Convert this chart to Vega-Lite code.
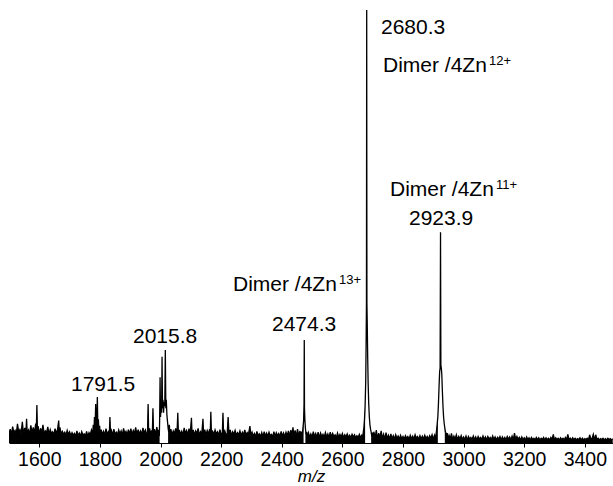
{
  "$schema": "https://vega.github.io/schema/vega-lite/v6.json",
  "width": 604,
  "height": 433,
  "autosize": "none",
  "padding": {"left": 9, "top": 10, "right": 0, "bottom": 43},
  "background": "white",
  "config": {
    "view": {"stroke": null},
    "font": "Liberation Sans",
    "axis": {"grid": false}
  },
  "datasets": {
    "spectrum": [
      {"mz":1500,"i":2.2},{"mz":1504,"i":3.2},{"mz":1508,"i":2.0},{"mz":1512,"i":3.8},{"mz":1516,"i":2.4},{"mz":1520,"i":2.9},{"mz":1524,"i":2.1},{"mz":1528,"i":4.4},{"mz":1532,"i":2.5},{"mz":1536,"i":3.1},{"mz":1540,"i":2.2},{"mz":1544,"i":4.9},{"mz":1548,"i":2.0},{"mz":1552,"i":3.5},{"mz":1556,"i":2.6},{"mz":1558,"i":5.6},{"mz":1560,"i":2.3},{"mz":1564,"i":3.0},{"mz":1568,"i":2.1},{"mz":1572,"i":4.1},{"mz":1576,"i":2.4},{"mz":1580,"i":3.6},{"mz":1584,"i":2.2},{"mz":1588,"i":4.5},{"mz":1590,"i":2.5},{"mz":1592,"i":8.8},{"mz":1594,"i":2.3},{"mz":1596,"i":3.9},{"mz":1600,"i":2.0},
      {"mz":1604,"i":3.4},{"mz":1608,"i":2.3},{"mz":1612,"i":4.2},{"mz":1616,"i":2.1},{"mz":1620,"i":2.8},{"mz":1624,"i":2.4},{"mz":1628,"i":3.7},{"mz":1632,"i":2.0},{"mz":1636,"i":3.1},{"mz":1640,"i":2.2},{"mz":1644,"i":2.6},{"mz":1648,"i":1.9},{"mz":1652,"i":3.3},{"mz":1656,"i":2.3},{"mz":1660,"i":3.0},{"mz":1664,"i":5.2},{"mz":1666,"i":2.2},{"mz":1668,"i":3.6},{"mz":1672,"i":2.1},{"mz":1676,"i":2.7},{"mz":1680,"i":2.0},{"mz":1684,"i":2.5},{"mz":1688,"i":1.8},{"mz":1692,"i":2.9},{"mz":1696,"i":2.0},{"mz":1700,"i":2.6},
      {"mz":1704,"i":1.7},{"mz":1708,"i":2.4},{"mz":1712,"i":1.8},{"mz":1716,"i":2.2},{"mz":1720,"i":1.5},{"mz":1724,"i":2.8},{"mz":1728,"i":1.7},{"mz":1732,"i":2.3},{"mz":1736,"i":1.6},{"mz":1740,"i":2.6},{"mz":1744,"i":1.8},{"mz":1748,"i":2.1},{"mz":1752,"i":1.6},{"mz":1756,"i":2.7},{"mz":1760,"i":1.5},{"mz":1764,"i":2.4},{"mz":1768,"i":1.9},{"mz":1772,"i":3.0},{"mz":1776,"i":2.0},{"mz":1778,"i":4.2},{"mz":1780,"i":2.2},{"mz":1782,"i":6.0},{"mz":1784,"i":2.8},{"mz":1786,"i":9.0},{"mz":1788,"i":3.4},{"mz":1790,"i":5.5},{"mz":1791.5,"i":10.6},{"mz":1793,"i":4.0},{"mz":1795,"i":5.5},{"mz":1797,"i":2.4},{"mz":1799,"i":4.0},{"mz":1801,"i":2.0},
      {"mz":1804,"i":3.1},{"mz":1808,"i":2.0},{"mz":1812,"i":2.7},{"mz":1816,"i":1.8},{"mz":1820,"i":3.3},{"mz":1824,"i":2.1},{"mz":1828,"i":2.6},{"mz":1831,"i":1.9},{"mz":1833,"i":6.0},{"mz":1835,"i":2.2},{"mz":1838,"i":2.9},{"mz":1842,"i":1.8},{"mz":1846,"i":3.2},{"mz":1850,"i":2.0},{"mz":1854,"i":2.5},{"mz":1858,"i":1.9},{"mz":1862,"i":3.0},{"mz":1866,"i":2.1},{"mz":1870,"i":2.8},{"mz":1874,"i":1.8},{"mz":1878,"i":3.4},{"mz":1882,"i":2.2},{"mz":1886,"i":2.7},{"mz":1890,"i":1.9},{"mz":1894,"i":3.1},{"mz":1898,"i":2.0},
      {"mz":1902,"i":3.3},{"mz":1906,"i":2.0},{"mz":1910,"i":2.9},{"mz":1914,"i":2.2},{"mz":1918,"i":3.6},{"mz":1922,"i":1.9},{"mz":1926,"i":3.1},{"mz":1930,"i":2.1},{"mz":1934,"i":2.8},{"mz":1938,"i":2.0},{"mz":1942,"i":3.5},{"mz":1946,"i":2.3},{"mz":1950,"i":3.0},{"mz":1954,"i":1.9},{"mz":1957,"i":2.4},{"mz":1959,"i":9.0},{"mz":1961,"i":2.2},{"mz":1964,"i":3.4},{"mz":1968,"i":2.0},{"mz":1971,"i":2.9},{"mz":1973,"i":2.3},{"mz":1975,"i":8.0},{"mz":1977,"i":2.1},{"mz":1980,"i":3.2},{"mz":1984,"i":2.0},{"mz":1988,"i":3.7},{"mz":1991,"i":2.2},{"mz":1994,"i":3.0},{"mz":1996,"i":1.6},
      {"mz":1997,"i":5.0},{"mz":1998.5,"i":15.2},{"mz":2000,"i":6.0},{"mz":2002,"i":9.0},{"mz":2003.5,"i":7.0},{"mz":2005,"i":19.9},{"mz":2006.5,"i":8.0},{"mz":2008,"i":10.0},{"mz":2010,"i":7.0},{"mz":2012,"i":9.5},{"mz":2014,"i":8.5},{"mz":2015.8,"i":21.5},{"mz":2017.5,"i":8.0},{"mz":2019,"i":10.0},{"mz":2021,"i":6.5},{"mz":2023,"i":5.0},{"mz":2025,"i":3.4},{"mz":2027,"i":2.5},{"mz":2029,"i":4.2},{"mz":2031,"i":2.0},
      {"mz":2034,"i":3.2},{"mz":2038,"i":1.9},{"mz":2042,"i":2.8},{"mz":2046,"i":2.2},{"mz":2050,"i":3.4},{"mz":2054,"i":1.8},{"mz":2057,"i":7.0},{"mz":2059,"i":2.1},{"mz":2062,"i":3.0},{"mz":2066,"i":2.0},{"mz":2070,"i":2.7},{"mz":2074,"i":1.8},{"mz":2078,"i":3.5},{"mz":2082,"i":2.2},{"mz":2086,"i":2.9},{"mz":2090,"i":1.9},{"mz":2094,"i":3.3},{"mz":2098,"i":2.1},
      {"mz":2102,"i":5.8},{"mz":2104,"i":2.0},{"mz":2108,"i":3.0},{"mz":2112,"i":1.8},{"mz":2116,"i":2.8},{"mz":2120,"i":2.2},{"mz":2124,"i":3.4},{"mz":2128,"i":1.9},{"mz":2132,"i":2.6},{"mz":2136,"i":2.0},{"mz":2140,"i":5.6},{"mz":2142,"i":2.1},{"mz":2146,"i":3.1},{"mz":2150,"i":1.8},{"mz":2154,"i":2.9},{"mz":2158,"i":2.1},{"mz":2162,"i":3.2},{"mz":2164,"i":2.2},{"mz":2166,"i":7.2},{"mz":2168,"i":2.0},{"mz":2172,"i":2.7},{"mz":2176,"i":1.9},{"mz":2180,"i":3.0},{"mz":2184,"i":2.1},{"mz":2188,"i":2.6},{"mz":2192,"i":1.8},{"mz":2196,"i":3.1},
      {"mz":2200,"i":2.0},{"mz":2204,"i":2.3},{"mz":2206,"i":7.0},{"mz":2208,"i":2.1},{"mz":2212,"i":2.8},{"mz":2216,"i":1.8},{"mz":2220,"i":2.2},{"mz":2223,"i":6.0},{"mz":2226,"i":1.9},{"mz":2230,"i":3.0},{"mz":2234,"i":1.7},{"mz":2238,"i":2.6},{"mz":2242,"i":2.0},{"mz":2246,"i":2.9},{"mz":2250,"i":1.8},{"mz":2254,"i":2.4},{"mz":2258,"i":1.9},{"mz":2262,"i":2.8},{"mz":2266,"i":1.7},{"mz":2270,"i":2.5},{"mz":2274,"i":1.9},{"mz":2278,"i":3.0},{"mz":2282,"i":1.8},{"mz":2286,"i":2.4},{"mz":2290,"i":2.0},{"mz":2295,"i":3.9},{"mz":2298,"i":1.7},
      {"mz":2302,"i":2.5},{"mz":2306,"i":1.6},{"mz":2310,"i":2.2},{"mz":2314,"i":1.4},{"mz":2318,"i":2.7},{"mz":2322,"i":1.7},{"mz":2326,"i":2.1},{"mz":2330,"i":1.5},{"mz":2334,"i":2.4},{"mz":2338,"i":1.4},{"mz":2342,"i":2.6},{"mz":2346,"i":1.6},{"mz":2350,"i":2.3},{"mz":2354,"i":1.5},{"mz":2358,"i":2.5},{"mz":2362,"i":1.7},{"mz":2366,"i":2.0},{"mz":2370,"i":1.4},{"mz":2374,"i":2.6},{"mz":2378,"i":1.5},{"mz":2382,"i":2.4},{"mz":2386,"i":1.7},{"mz":2390,"i":2.2},{"mz":2394,"i":1.5},{"mz":2398,"i":2.7},
      {"mz":2402,"i":1.6},{"mz":2406,"i":2.3},{"mz":2410,"i":1.4},{"mz":2414,"i":2.5},{"mz":2418,"i":1.7},{"mz":2422,"i":2.8},{"mz":2426,"i":1.6},{"mz":2430,"i":3.0},{"mz":2434,"i":1.8},{"mz":2437,"i":3.6},{"mz":2440,"i":1.7},{"mz":2444,"i":2.9},{"mz":2448,"i":1.5},{"mz":2452,"i":3.2},{"mz":2456,"i":1.6},{"mz":2460,"i":2.8},{"mz":2463,"i":1.8},
      {"mz":2466,"i":2.6},{"mz":2468,"i":2.0},{"mz":2470,"i":3.5},{"mz":2472,"i":5.0},{"mz":2473.5,"i":9.0},{"mz":2474.3,"i":23.8},{"mz":2475,"i":8.0},{"mz":2476.5,"i":5.0},{"mz":2478,"i":3.5},{"mz":2480,"i":2.0},{"mz":2482,"i":2.6},{"mz":2484,"i":1.5},
      {"mz":2488,"i":2.4},{"mz":2492,"i":1.4},{"mz":2496,"i":2.1},{"mz":2500,"i":1.3},{"mz":2504,"i":2.6},{"mz":2508,"i":1.5},{"mz":2512,"i":2.2},{"mz":2516,"i":1.3},{"mz":2520,"i":2.5},{"mz":2524,"i":1.2},{"mz":2528,"i":2.3},{"mz":2532,"i":1.5},{"mz":2536,"i":2.0},{"mz":2540,"i":1.3},{"mz":2544,"i":2.4},{"mz":2548,"i":1.4},{"mz":2552,"i":2.1},{"mz":2556,"i":1.2},{"mz":2560,"i":2.5},{"mz":2564,"i":1.4},{"mz":2568,"i":2.2},{"mz":2572,"i":1.5},{"mz":2576,"i":1.9},{"mz":2580,"i":1.2},{"mz":2584,"i":2.3},{"mz":2588,"i":1.3},{"mz":2592,"i":2.0},{"mz":2596,"i":1.4},
      {"mz":2600,"i":2.2},{"mz":2604,"i":1.2},{"mz":2608,"i":1.9},{"mz":2612,"i":1.4},{"mz":2616,"i":2.1},{"mz":2620,"i":1.3},{"mz":2624,"i":1.8},{"mz":2628,"i":1.2},{"mz":2632,"i":2.0},{"mz":2636,"i":1.4},{"mz":2640,"i":1.9},{"mz":2644,"i":1.2},{"mz":2648,"i":1.7},{"mz":2652,"i":1.3},{"mz":2656,"i":2.0},{"mz":2660,"i":1.2},{"mz":2664,"i":1.8},
      {"mz":2667,"i":1.4},{"mz":2669,"i":2.5},{"mz":2671,"i":3.5},{"mz":2673,"i":5.5},{"mz":2675,"i":8.5},{"mz":2677,"i":14.0},{"mz":2678.5,"i":24.0},{"mz":2679.5,"i":32.3},{"mz":2680.3,"i":100},{"mz":2681,"i":32.3},{"mz":2682,"i":28.0},{"mz":2683.5,"i":20.0},{"mz":2685,"i":14.0},{"mz":2687,"i":9.0},{"mz":2689,"i":6.0},{"mz":2691,"i":4.2},{"mz":2693,"i":3.2},{"mz":2695,"i":2.5},{"mz":2697,"i":1.5},{"mz":2699,"i":2.4},{"mz":2701,"i":1.1},
      {"mz":2704,"i":2.6},{"mz":2708,"i":1.1},{"mz":2712,"i":3.0},{"mz":2716,"i":1.0},{"mz":2720,"i":2.3},{"mz":2724,"i":1.2},{"mz":2728,"i":2.8},{"mz":2732,"i":1.0},{"mz":2736,"i":2.0},{"mz":2740,"i":0.9},{"mz":2744,"i":2.4},{"mz":2748,"i":1.1},{"mz":2752,"i":1.8},{"mz":2756,"i":0.9},{"mz":2760,"i":2.1},{"mz":2764,"i":1.0},{"mz":2768,"i":1.7},{"mz":2772,"i":0.9},{"mz":2776,"i":1.9},{"mz":2780,"i":1.1},{"mz":2784,"i":1.6},{"mz":2788,"i":0.9},{"mz":2792,"i":1.8},{"mz":2796,"i":1.0},
      {"mz":2800,"i":1.5},{"mz":2804,"i":0.9},{"mz":2808,"i":1.7},{"mz":2812,"i":1.1},{"mz":2816,"i":1.5},{"mz":2820,"i":0.9},{"mz":2824,"i":1.8},{"mz":2828,"i":1.0},{"mz":2832,"i":1.6},{"mz":2836,"i":0.9},{"mz":2840,"i":1.9},{"mz":2844,"i":1.1},{"mz":2848,"i":1.5},{"mz":2852,"i":0.9},{"mz":2856,"i":1.7},{"mz":2860,"i":1.0},{"mz":2864,"i":1.6},{"mz":2868,"i":0.9},{"mz":2872,"i":1.8},{"mz":2876,"i":1.0},{"mz":2880,"i":1.5},{"mz":2884,"i":0.9},{"mz":2888,"i":1.7},{"mz":2892,"i":1.1},{"mz":2896,"i":1.9},{"mz":2900,"i":0.9},{"mz":2904,"i":1.8},{"mz":2907,"i":1.1},
      {"mz":2909,"i":2.0},{"mz":2911,"i":3.0},{"mz":2913,"i":4.5},{"mz":2915,"i":6.0},{"mz":2917,"i":9.0},{"mz":2919,"i":13.0},{"mz":2921,"i":16.5},{"mz":2922.5,"i":17.3},{"mz":2923.9,"i":48.7},{"mz":2925,"i":18.0},{"mz":2926.5,"i":17.3},{"mz":2928,"i":16.0},{"mz":2930,"i":12.0},{"mz":2932,"i":8.5},{"mz":2934,"i":6.0},{"mz":2936,"i":4.5},{"mz":2938,"i":3.5},{"mz":2940,"i":2.6},{"mz":2942,"i":2.2},{"mz":2944,"i":1.0},{"mz":2946,"i":2.3},{"mz":2948,"i":0.9},
      {"mz":2952,"i":1.8},{"mz":2956,"i":0.9},{"mz":2960,"i":2.2},{"mz":2964,"i":0.8},{"mz":2968,"i":1.6},{"mz":2972,"i":0.9},{"mz":2976,"i":1.9},{"mz":2980,"i":0.8},{"mz":2984,"i":1.5},{"mz":2988,"i":0.9},{"mz":2992,"i":1.7},{"mz":2996,"i":0.8},
      {"mz":3000,"i":1.4},{"mz":3004,"i":0.8},{"mz":3008,"i":1.6},{"mz":3012,"i":0.7},{"mz":3016,"i":1.5},{"mz":3020,"i":0.9},{"mz":3024,"i":1.3},{"mz":3028,"i":0.8},{"mz":3032,"i":1.6},{"mz":3036,"i":0.8},{"mz":3040,"i":1.4},{"mz":3044,"i":0.7},{"mz":3048,"i":1.5},{"mz":3052,"i":0.9},{"mz":3056,"i":1.3},{"mz":3060,"i":0.8},{"mz":3064,"i":1.6},{"mz":3068,"i":0.8},{"mz":3072,"i":1.4},{"mz":3076,"i":0.7},{"mz":3080,"i":1.5},{"mz":3084,"i":0.9},{"mz":3088,"i":1.3},{"mz":3092,"i":0.8},{"mz":3096,"i":1.6},
      {"mz":3100,"i":0.8},{"mz":3104,"i":1.4},{"mz":3108,"i":0.7},{"mz":3112,"i":1.3},{"mz":3116,"i":0.9},{"mz":3120,"i":1.5},{"mz":3124,"i":0.7},{"mz":3128,"i":1.4},{"mz":3132,"i":0.8},{"mz":3136,"i":1.3},{"mz":3140,"i":0.7},{"mz":3144,"i":1.5},{"mz":3148,"i":0.9},{"mz":3152,"i":1.4},{"mz":3156,"i":0.7},{"mz":3160,"i":1.6},{"mz":3164,"i":0.8},{"mz":3168,"i":2.3},{"mz":3172,"i":0.8},{"mz":3176,"i":1.5},{"mz":3180,"i":0.9},{"mz":3184,"i":1.3},{"mz":3188,"i":0.7},{"mz":3192,"i":1.4},{"mz":3196,"i":0.8},
      {"mz":3200,"i":1.2},{"mz":3204,"i":0.7},{"mz":3208,"i":1.4},{"mz":3212,"i":0.8},{"mz":3216,"i":1.2},{"mz":3220,"i":0.7},{"mz":3224,"i":1.3},{"mz":3228,"i":0.8},{"mz":3232,"i":1.1},{"mz":3236,"i":0.7},{"mz":3240,"i":1.3},{"mz":3244,"i":0.8},{"mz":3248,"i":1.2},{"mz":3252,"i":0.7},{"mz":3256,"i":1.1},{"mz":3260,"i":0.8},{"mz":3264,"i":1.3},{"mz":3268,"i":0.7},{"mz":3272,"i":1.2},{"mz":3276,"i":0.8},{"mz":3280,"i":1.1},{"mz":3284,"i":0.7},{"mz":3288,"i":1.3},{"mz":3292,"i":0.8},{"mz":3296,"i":2.0},
      {"mz":3300,"i":0.7},{"mz":3304,"i":1.2},{"mz":3308,"i":0.8},{"mz":3312,"i":1.1},{"mz":3316,"i":0.7},{"mz":3320,"i":1.2},{"mz":3324,"i":0.8},{"mz":3328,"i":1.1},{"mz":3332,"i":0.7},{"mz":3336,"i":1.3},{"mz":3340,"i":0.8},{"mz":3344,"i":2.0},{"mz":3348,"i":0.7},{"mz":3352,"i":1.1},{"mz":3356,"i":0.7},{"mz":3360,"i":1.2},{"mz":3364,"i":0.8},{"mz":3368,"i":1.1},{"mz":3372,"i":0.7},{"mz":3376,"i":1.0},{"mz":3380,"i":0.8},{"mz":3384,"i":1.2},{"mz":3388,"i":0.7},{"mz":3392,"i":1.1},{"mz":3396,"i":0.7},
      {"mz":3400,"i":1.0},{"mz":3404,"i":0.8},{"mz":3408,"i":1.1},{"mz":3412,"i":0.7},{"mz":3416,"i":1.9},{"mz":3420,"i":0.8},{"mz":3424,"i":1.1},{"mz":3428,"i":2.0},{"mz":3432,"i":0.7},{"mz":3436,"i":1.9},{"mz":3440,"i":0.8},{"mz":3444,"i":1.1},{"mz":3448,"i":0.7},{"mz":3452,"i":1.0},{"mz":3456,"i":0.8},{"mz":3460,"i":1.1},{"mz":3464,"i":0.7},{"mz":3468,"i":1.0},{"mz":3472,"i":0.7},{"mz":3476,"i":1.1},{"mz":3480,"i":0.8},{"mz":3484,"i":1.0},{"mz":3488,"i":0.7},{"mz":3492,"i":1.0}
    ],
    "peakLabels": [
      {"mz":2727.5,"i":95.8,"text":"2680.3"},
      {"mz":2819.9,"i":51.7,"text":"2923.9"},
      {"mz":2367.8,"i":27.3,"text":"2474.3"},
      {"mz":1909.2,"i":24.5,"text":"2015.8"},
      {"mz":1704.6,"i":13.4,"text":"1791.5"}
    ],
    "ionLabels": [
      {"mz":2734.1,"i":87.1,"text":"Dimer /4Zn","charge":"12+"},
      {"mz":2757.2,"i":58.4,"text":"Dimer /4Zn","charge":"11+"},
      {"mz":2239.1,"i":36.5,"text":"Dimer /4Zn","charge":"13+"}
    ]
  },
  "data": {"name": "spectrum"},
  "encoding": {
    "x": {
      "field": "mz", "type": "quantitative",
      "scale": {"domain": [1500, 3493], "nice": false, "zero": false},
      "axis": {
        "values": [1600, 1800, 2000, 2200, 2400, 2600, 2800, 3000, 3200, 3400],
        "format": "d",
        "title": "m/z",
        "titleFont": "Liberation Sans",
        "titleFontStyle": "italic",
        "titleFontWeight": "normal",
        "titleFontSize": 17,
        "titleColor": "black",
        "titlePadding": 0,
        "labelFont": "Liberation Sans",
        "labelFontSize": 19.5,
        "labelColor": "black",
        "labelPadding": 3,
        "tickColor": "black",
        "tickSize": 4,
        "domainColor": "black",
        "domainWidth": 1
      }
    },
    "y": {
      "field": "i", "type": "quantitative",
      "scale": {"domain": [0, 100], "nice": false},
      "axis": null
    }
  },
  "layer": [
    {
      "transform": [{"filter": {"field": "mz", "lte": 1997}}],
      "mark": {"type": "area", "color": "black", "clip": true}
    },
    {
      "transform": [{"filter": {"field": "mz", "range": [2025, 2472]}}],
      "mark": {"type": "area", "color": "black", "clip": true}
    },
    {
      "transform": [{"filter": {"field": "mz", "range": [2477, 2675]}}],
      "mark": {"type": "area", "color": "black", "clip": true}
    },
    {
      "transform": [{"filter": {"field": "mz", "range": [2695, 2915]}}],
      "mark": {"type": "area", "color": "black", "clip": true}
    },
    {
      "transform": [{"filter": {"field": "mz", "gte": 2938}}],
      "mark": {"type": "area", "color": "black", "clip": true}
    },
    {
      "mark": {"type": "line", "color": "black", "strokeWidth": 1.3, "clip": true}
    },
    {
      "data": {"name": "peakLabels"},
      "mark": {"type": "text", "align": "left", "baseline": "middle", "fontSize": 21, "font": "Liberation Sans", "color": "black"},
      "encoding": {"text": {"field": "text"}}
    },
    {
      "data": {"name": "ionLabels"},
      "mark": {"type": "text", "align": "left", "baseline": "middle", "fontSize": 21, "font": "Liberation Sans", "color": "black"},
      "encoding": {"text": {"field": "text"}}
    },
    {
      "data": {"name": "ionLabels"},
      "mark": {"type": "text", "align": "left", "baseline": "middle", "fontSize": 13, "font": "Liberation Sans", "color": "black", "dx": 106, "dy": -5},
      "encoding": {"text": {"field": "charge"}}
    }
  ]
}
